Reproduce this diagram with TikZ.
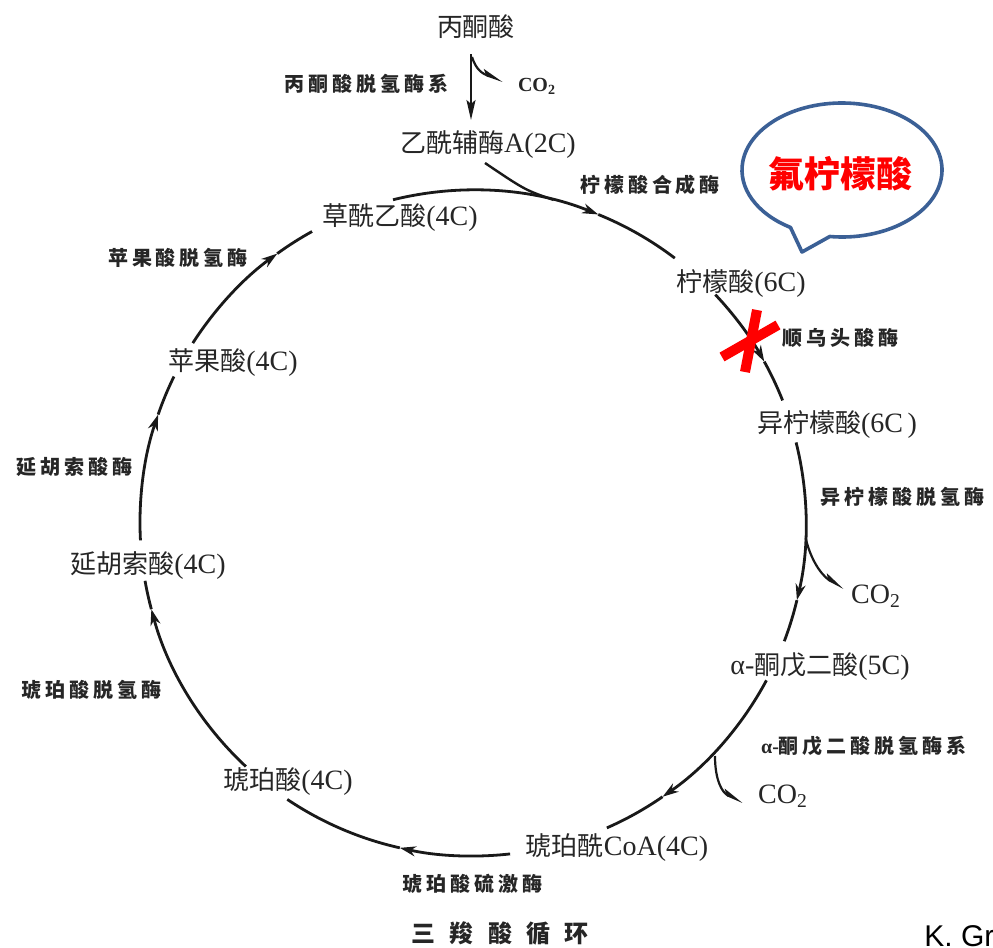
\documentclass[tikz,border=0pt]{standalone}
\usepackage{fontspec}
\setmainfont{Liberation Serif}
\newfontfamily\cjk{Noto Sans CJK SC}
\newfontfamily\enzfont[LetterSpace=20]{Noto Sans CJK SC}
\newfontfamily\titlefont[LetterSpace=60]{Noto Sans CJK SC}
\newfontfamily\authfont{Liberation Sans}
\usetikzlibrary{arrows.meta,calc}
\newcommand\met[2]{{\cjk\fontsize{13}{15}\selectfont #1}{\fontsize{14}{16}\selectfont #2}}
\newcommand\cycseg[4]{%
  \coordinate (#1a) at ($(C)+(#2:333)$);
  \coordinate (#1m) at ($(C)+(#3:333)$);
  \draw[cyc,midarr] (#1a) arc[start angle=#2,end angle=#3,radius=333];
  \draw[cyc] (#1m) arc[start angle=#3,end angle=#4,radius=333];
}
\begin{document}
\begin{tikzpicture}[x=0.5pt,y=-0.5pt,
  cyc/.style={line width=1.4pt,black!90},
  midarr/.style={-{Stealth[length=8pt,width=5pt,inset=2.5pt]}},
  co2arr/.style={line width=1.1pt,black!90,-{Stealth[length=9pt,width=5pt,inset=2pt,harpoon]}},
  metab/.style={inner sep=0pt,text=black!85},
  enz/.style={inner sep=0pt,text=black!85,font=\enzfont\bfseries\fontsize{10}{12}\selectfont},
  co2/.style={inner sep=0pt,text=black!85,font=\fontsize{14}{16}\selectfont},
  bubble/.style={line width=1.8pt,draw={rgb,255:red,59;green,96;blue,150},fill=white,line join=round},
  redx/.style={line width=5pt,red},
]
\useasboundingbox (0,0) rectangle (993,948);
\fill[white] (0,0) rectangle (993,948);
\coordinate (C) at (473,523);

% metabolites
\node[metab,font=\cjk\fontsize{13}{15}\selectfont] (pyr) at (476,27) {丙酮酸};
\node[metab] (acoa) at (488,145) {\met{乙酰辅酶}{A(2C)}};
\node[metab] (oaa) at (400,218) {\met{草酰乙酸}{(4C)}};
\node[metab] (cit) at (741,284) {\met{柠檬酸}{(6C)}};
\node[metab] (icit) at (837,425) {\met{异柠檬酸}{(6C\,)}};
\node[metab] (akg) at (820,667) {{\fontsize{14}{16}\selectfont α-}\met{酮戊二酸}{(5C)}};
\node[metab] (scoa) at (617,848) {\met{琥珀酰}{CoA(4C)}};
\node[metab] (succ) at (288,782) {\met{琥珀酸}{(4C)}};
\node[metab] (fum) at (148,566) {\met{延胡索酸}{(4C)}};
\node[metab] (mal) at (233,363) {\met{苹果酸}{(4C)}};

% enzymes
\node[enz] (pdh) at (367,84) {丙酮酸脱氢酶系};
\node[enz] (cs) at (650,185) {柠檬酸合成酶};
\node[enz] (aco) at (840,338) {顺乌头酸酶};
\node[enz] (idh) at (902,497) {异柠檬酸脱氢酶};
\node[enz] (akgdh) at (864,746) {{\normalfont\bfseries\fontsize{10}{12}\selectfont α-}酮戊二酸脱氢酶系};
\node[enz] (scs) at (472,884) {琥珀酸硫激酶};
\node[enz] (sdh) at (92,690) {琥珀酸脱氢酶};
\node[enz] (fumase) at (75,467) {延胡索酸酶};
\node[enz] (mdh) at (178,258) {苹果酸脱氢酶};

% CO2
\node[inner sep=0pt,text=black!85,font=\bfseries\fontsize{10}{12}\selectfont] (co2a) at (537,86) {CO\textsubscript{2}};
\node[co2] (co2b) at (876,596) {CO\textsubscript{2}};
\node[co2] (co2c) at (783,796) {CO\textsubscript{2}};

% title and author
\node[inner sep=0pt,text=black!85,font=\titlefont\bfseries\fontsize{12}{14}\selectfont] (title) at (500,933) {三羧酸循环};
\node[inner sep=0pt,anchor=base west,font=\authfont\fontsize{15}{17}\selectfont] (auth) at (924,946) {K. Gr};

% pyruvate -> acetyl-CoA
\coordinate (pyrout) at (471,54);
\coordinate (acoain) at (471,120);
\draw[line width=1.1pt,black!90,-{Stealth[length=10pt,width=4.5pt,inset=2pt]}] (pyrout) -- (acoain);
\coordinate (pbr) at (472,57);
\coordinate (pbrend) at (503,81);
\draw[co2arr] (pbr) .. controls (476,70) and (483,74) .. (pbrend);

% cycle arcs
\cycseg{sa}{-103.9}{-67.9}{-52.7}
\cycseg{sb}{-43.3}{-29}{-21.6}
\cycseg{sc}{-14}{13.4}{20.8}
\cycseg{sd}{28.2}{55.3}{66.3}
\cycseg{se}{83.6}{102.7}{123.9}
\cycseg{sf}{133}{165}{170}
\cycseg{sg}{177}{199}{206.1}
\cycseg{sh}{212.7}{234}{241.1}

% acetyl-CoA joining
\coordinate (acoaout) at (485,163);
\coordinate (join) at ($(C)+(-76:333)$);
\draw[line width=1.2pt,black!90] (acoaout) .. controls (525,190) .. (join);

% CO2 branches
\coordinate (ibr) at ($(C)+(2.6:333)$);
\coordinate (ibrend) at (844,588);
\draw[co2arr] (ibr) .. controls (812,565) and (825,578) .. (ibrend);
\coordinate (kbr) at (715,756);
\coordinate (kbrend) at (743,802);
\draw[co2arr] (kbr) .. controls (715,780) and (722,793) .. (kbrend);

% speech bubble
\coordinate (B) at (842,170);
\coordinate (tip) at (802,252);
\draw[bubble] (tip) -- ($(B)+(97:100 and 67)$) arc[start angle=97,end angle=-239,x radius=100,y radius=67] -- cycle;
\node[inner sep=0pt,text=red,font=\cjk\bfseries\fontsize{18}{20}\selectfont] (flu) at (840,174) {氟柠檬酸};

% red cross
\draw[redx] (757,310) -- (745,372);
\draw[redx] (778,325) -- (722,357);
\end{tikzpicture}
\end{document}
